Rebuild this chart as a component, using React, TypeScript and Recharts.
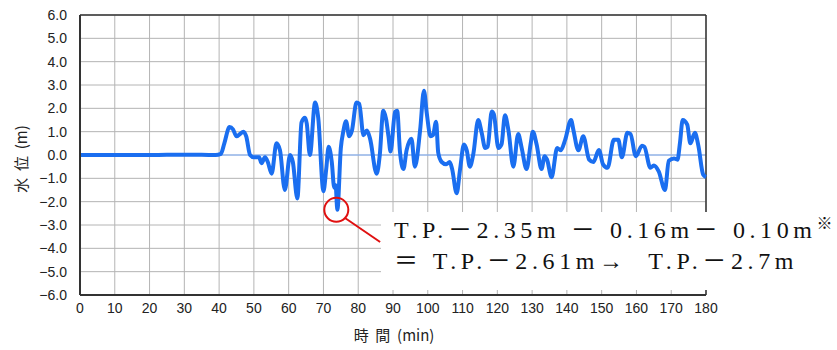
import React from "react";
import {
  LineChart,
  Line,
  XAxis,
  YAxis,
  CartesianGrid,
  ReferenceLine,
  ReferenceDot,
} from "recharts";

// time (min) and water level (m)
const times = [
  0, 10, 20, 25, 30, 35, 39, 40.5, 41.5, 43, 44, 45, 46, 47, 47.8, 48.9, 50,
  51.5, 52.2, 53.2, 54, 55.1, 56.5, 57.5, 58.9, 60.4, 61.2, 62.5, 63.7, 64.7,
  65.2, 66.1, 67.6, 68.5, 70, 70.8, 71.5, 72.4, 73.1, 73.5, 74, 75, 75.7, 76.5,
  77.4, 78.2, 79.5, 80.3, 81.5, 82.5, 83.4, 85.3, 86.2, 87.2, 88, 88.7, 89.3,
  90.6, 91.2, 92, 93, 93.9, 95.3, 96.3, 97.8, 98.9, 99.7, 100.8, 101.5, 102.4,
  103, 104, 105.3, 106.3, 107, 108.3, 109.3, 110.4, 111.2, 112.1, 113.1, 114.5,
  115.5, 116.5, 117.2, 118.4, 119, 120.3, 121.2, 122.2, 123.2, 124.6, 126, 127,
  128.4, 129.6, 130.2, 131.3, 132.7, 133.6, 134.3, 135.6, 137.2, 138.2, 139.5,
  141.2, 141.9, 143.3, 144.7, 146.4, 147.6, 149.2, 150.4, 151.7, 153.5, 154.8,
  155.8, 157.4, 158.3, 159.8, 161.6, 162.3, 164, 165, 166.4, 168.2, 169.3,
  170.8, 171.8, 172.5, 173.3, 174.6, 175.5, 176.8, 177.8, 179.2, 180,
];

const levels = [
  0, 0, 0, 0.01, 0.01, 0.01, 0, 0.05, 0.5, 1.2, 1.1, 0.8, 0.9, 1.0, 0.8, 0,
  -0.1, -0.1, -0.35, -0.1, -0.3, -0.8, 0.5, 0.2, -1.5, 0, -0.3, -1.86, 1.4, 1.6,
  1.35, 0, 2.25, 1.6, -1.55, -0.6, 0.35, -0.3, -1.4, -1.3, -2.35, 0.3, 1.0,
  1.45, 0.8, 1.05, 2.25, 2.2, 0.85, 1.05, 0.7, -0.8, 0, 1.9, 1.55, 0.8, 0.15,
  1.85, 1.9, 0.15, -0.6, 0.2, 0.7, -0.5, 1.07, 2.75, 1.8, 0.8, 0.85, 1.43, 0.1,
  -0.3, -0.4, -0.3, -0.6, -1.64, -0.6, 0.45, 0.2, -0.5, 0.05, 1.5, 0.95, 0.3,
  0.35, 1.86, 1.75, 0.3, 0.45, 1.7, 1.05, -0.5, 0.9, 0.3, -0.6, 0.5, 1.0, 0.45,
  -0.6, -0.05, -0.2, -0.95, 0.3, 0.2, 0.65, 1.5, 1.05, 0.2, 0.8, -0.2, -0.3,
  0.21, -0.4, -0.55, 0.65, 0.65, -0.1, 0.95, 0.9, -0.05, 0.4, 0.35, -0.55,
  -0.45, -0.7, -1.5, -0.25, -0.15, -0.2, 0.5, 1.5, 1.3, 0.5, 0.95, 0.4, -0.85,
  -0.95,
];

const xTicks = [
  0, 10, 20, 30, 40, 50, 60, 70, 80, 90, 100, 110, 120, 130, 140, 150, 160,
  170, 180,
];
const yTicks = [-6, -5, -4, -3, -2, -1, 0, 1, 2, 3, 4, 5, 6];

const data = times.map((t, i) => ({ t, level: levels[i] }));

const fmtY = (v: number) => v.toFixed(1).replace("-", "−");

const tickStyle = { fontSize: 14, fill: "#222", fontFamily: "Liberation Sans" };

export default function App() {
  return (
    <div
      style={{
        position: "absolute",
        left: 0,
        top: 0,
        width: 837,
        height: 350,
        background: "#fff",
      }}
    >
      <LineChart
        width={837}
        height={350}
        data={data}
        margin={{ top: 15, right: 131, left: 0, bottom: 0 }}
      >
        <CartesianGrid stroke="#b4b4b4" strokeWidth={1} />
        <XAxis
          dataKey="t"
          type="number"
          domain={[0, 180]}
          ticks={xTicks}
          interval={0}
          height={55}
          tick={tickStyle}
          tickLine={false}
          axisLine={{ stroke: "#333", strokeWidth: 2 }}
          label={{
            content: () => (
              <text
                x={394}
                y={341}
                textAnchor="middle"
                fontSize={15}
                fill="#222"
                fontFamily="Noto Sans CJK JP"
                style={{ whiteSpace: "pre" }}
              >
                {"時  間  (min)"}
              </text>
            ),
          }}
        />
        <YAxis
          type="number"
          domain={[-6, 6]}
          ticks={yTicks}
          interval={0}
          width={80}
          tick={tickStyle}
          tickFormatter={fmtY}
          tickLine={false}
          tickMargin={7}
          axisLine={{ stroke: "#333", strokeWidth: 2 }}
          label={{
            content: () => (
              <text
                x={27}
                y={159}
                textAnchor="middle"
                fontSize={15}
                fill="#222"
                fontFamily="Noto Sans CJK JP"
                transform="rotate(-90 27 159)"
                style={{ whiteSpace: "pre" }}
              >
                {"水  位  (m)"}
              </text>
            ),
          }}
        />
        <ReferenceLine y={0} stroke="#7fb0ff" strokeWidth={1} />
        <ReferenceLine y={6} stroke="#333" strokeWidth={1.5} />
        <ReferenceLine x={180} stroke="#333" strokeWidth={1.5} />
        <Line
          type="monotone"
          dataKey="level"
          stroke="#1a6ef0"
          strokeWidth={4}
          dot={false}
          isAnimationActive={false}
        />
        <ReferenceDot
          x={73.7}
          y={-2.35}
          r={12}
          fill="none"
          stroke="#e01010"
          strokeWidth={2}
        />
        <ReferenceLine
          segment={[
            { x: 76.2, y: -2.7 },
            { x: 86.3, y: -3.73 },
          ]}
          stroke="#e01010"
          strokeWidth={2}
        />
      </LineChart>
      <div
        style={{
          position: "absolute",
          left: 381,
          top: 212,
          width: 456,
          height: 78,
          background: "#fff",
        }}
      />
      <div
        style={{
          position: "absolute",
          left: 394,
          top: 208,
          fontFamily: "'Liberation Serif', 'Noto Sans CJK JP', serif",
          fontSize: 24,
          lineHeight: "31px",
          letterSpacing: 4.6,
          color: "#111",
          whiteSpace: "pre",
        }}
      >
        <div>
          T.P.－2.35m － 0.16m－ 0.10m
          <span style={{ fontSize: 16, verticalAlign: "9px", letterSpacing: 0 }}>
            ※
          </span>
        </div>
        <div>{"＝ T.P.－2.61m→  T.P.－2.7m"}</div>
      </div>
    </div>
  );
}
